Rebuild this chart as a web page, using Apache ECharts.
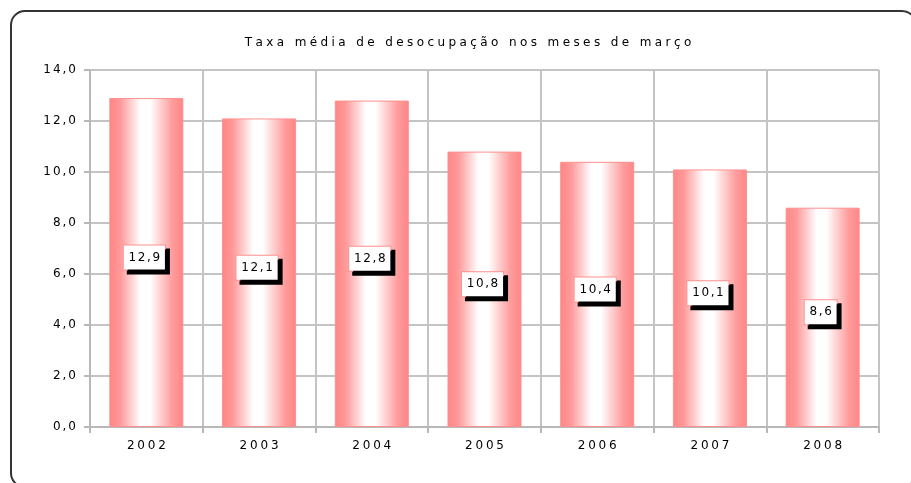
<!DOCTYPE html>
<html>
<head>
<meta charset="utf-8">
<script src="https://cdn.jsdelivr.net/npm/echarts@6/dist/echarts.min.js"></script>
<style>
  html, body { margin: 0; padding: 0; background: #fff; }
  #chart { width: 911px; height: 483px; }
</style>
</head>
<body>
<div id="chart"></div>
<script>
// dados do gráfico
const anos = ['2002', '2003', '2004', '2005', '2006', '2007', '2008']
const taxas = [12.9, 12.1, 12.8, 10.8, 10.4, 10.1, 8.6]
const titulo = 'Taxa média de desocupação nos meses de março'

const fmt = v => v.toFixed(1).replace('.', ',')
// letras espaçadas (o original usa espaçamento largo)
const spaced = s => s.split('').map(ch => '{s|' + ch + '}').join('')

const FONT = 'DejaVu Sans'

const chart = echarts.init(document.getElementById('chart'))

const option = {
  animation: false,
  backgroundColor: '#fff',
  title: {
    text: spaced(titulo),
    left: 463,
    textAlign: 'center',
    top: 32,
    textStyle: {
      fontFamily: FONT, fontSize: 12, fontWeight: 'normal', color: '#000',
      rich: { s: { fontFamily: FONT, fontSize: 12, color: '#000', padding: [0, 1.7, 0, 1.7] } }
    }
  },
  graphic: [
    {
      type: 'rect',
      shape: { x: 11, y: 11, width: 905, height: 476, r: 14 },
      style: { fill: 'none', stroke: '#333', lineWidth: 2 },
      silent: true
    }
  ],
  grid: { left: 90, right: 32, top: 70, bottom: 56 },
  xAxis: {
    type: 'category',
    data: anos,
    axisLine: { lineStyle: { color: '#b8b8b8', width: 2 } },
    axisTick: { show: true, interval: 0, length: 6, lineStyle: { color: '#b8b8b8', width: 2 } },
    axisLabel: {
      interval: 0,
      margin: 13,
      formatter: v => spaced(v),
      rich: { s: { fontFamily: FONT, fontSize: 12, color: '#000', padding: [0, 1.4, 0, 1.4] } }
    },
    splitLine: { show: true, interval: 0, lineStyle: { color: '#c4c4c4', width: 2 } }
  },
  yAxis: {
    type: 'value',
    min: 0,
    max: 14,
    interval: 2,
    axisLine: { show: true, lineStyle: { color: '#b8b8b8', width: 2 } },
    axisTick: { show: true, length: 6, lineStyle: { color: '#b8b8b8', width: 2 } },
    axisLabel: {
      margin: 13,
      formatter: v => spaced(fmt(v)),
      rich: { s: { fontFamily: FONT, fontSize: 12, color: '#000', padding: [0, 1, 0, 1] } }
    },
    splitLine: { show: true, lineStyle: { color: '#c4c4c4', width: 2 } }
  },
  series: [
    {
      type: 'bar',
      data: taxas,
      barWidth: 74,
      itemStyle: {
        color: new echarts.graphic.LinearGradient(0, 0, 1, 0, [
          { offset: 0, color: '#ff8585' },
          { offset: 0.15, color: '#ff9a9a' },
          { offset: 0.42, color: '#ffffff' },
          { offset: 0.55, color: '#ffffff' },
          { offset: 0.85, color: '#ff9c9c' },
          { offset: 1, color: '#ff8585' }
        ]),
        borderColor: '#ff8f8f',
        borderWidth: 1
      },
      label: {
        show: true,
        position: 'inside',
        offset: [-2, -5],
        formatter: p => spaced(fmt(p.value)),
        rich: { s: { fontFamily: FONT, fontSize: 12, color: '#000', padding: [0, 0.8, 0, 0.8] } },
        backgroundColor: '#fff',
        borderColor: '#ff8f8f',
        borderWidth: 1,
        padding: [6, 4, 6, 4],
        shadowColor: '#000',
        shadowOffsetX: 4,
        shadowOffsetY: 4,
        shadowBlur: 0
      }
    }
  ]
}

chart.setOption(option)
</script>
</body>
</html>
